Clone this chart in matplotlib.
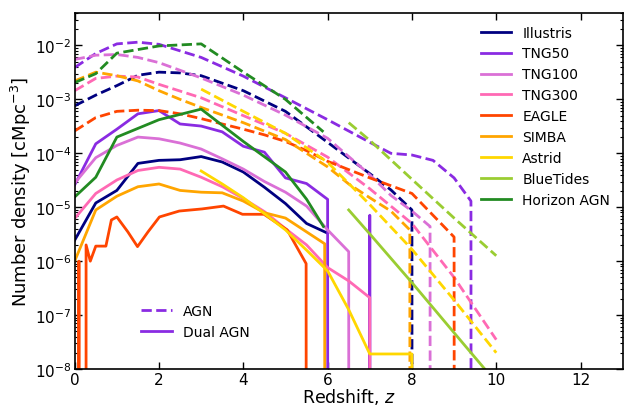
import numpy as np
import matplotlib
matplotlib.use('Agg')
import matplotlib.pyplot as plt
from matplotlib.lines import Line2D

# Number density of AGN (dashed) and dual AGN (solid) vs redshift, per simulation.
# A value of 0 means no objects: the log axis sends the curve straight down.

illustris_z_agn = [0, 0.5, 1, 1.5, 2, 2.5, 3, 4, 5, 6, 7, 7.5, 8, 8.5]
illustris_agn = [7.6e-4, 1.2e-3, 1.8e-3, 2.8e-3, 3.2e-3, 3.1e-3, 2.75e-3, 1.45e-3,
                 6.0e-4, 1.6e-4, 4.2e-5, 2.1e-5, 8.9e-6, 0]
illustris_z_dual = [0, 0.5, 1, 1.5, 2, 2.5, 3, 3.5, 4, 4.5, 5, 5.5, 6]
illustris_dual = [2.45e-6, 1.2e-5, 2.05e-5, 6.5e-5, 7.4e-5, 7.6e-5, 8.7e-5, 6.9e-5,
                  4.5e-5, 2.35e-5, 1.17e-5, 5.0e-6, 3.3e-6]

tng50_z_agn = [0, 0.5, 1, 1.5, 2, 3, 4, 5, 6, 7, 7.5, 8, 8.5, 9, 9.4, 9.9]
tng50_agn = [3.9e-3, 7.1e-3, 1.07e-2, 1.15e-2, 1.05e-2, 6.0e-3, 2.7e-3, 1.07e-3,
             4.2e-4, 1.6e-4, 1.0e-4, 9.3e-5, 7.4e-5, 3.5e-5, 1.3e-5, 0]
tng50_z_dual = [0, 0.5, 1, 1.5, 2, 2.5, 3, 3.5, 4, 4.5, 5, 5.5, 6, 6.5, 7, 7.5]
tng50_dual = [2.6e-5, 1.5e-4, 2.8e-4, 5.4e-4, 6.2e-4, 3.5e-4, 3.2e-4, 2.5e-4,
              1.35e-4, 1.05e-4, 3.5e-5, 2.75e-5, 1.4e-5, 0, 7.1e-6, 0]

tng100_z_agn = [0, 0.5, 1, 1.5, 2, 3, 4, 5, 6, 7, 7.5, 8, 8.43, 8.9]
tng100_agn = [5.5e-3, 6.6e-3, 6.8e-3, 6.0e-3, 4.8e-3, 2.5e-3, 1.2e-3, 5.1e-4,
              1.9e-4, 4.0e-5, 1.66e-5, 8.5e-6, 4.4e-6, 0]
tng100_z_dual = [0, 0.5, 1, 1.5, 2, 2.5, 3, 3.5, 4, 4.5, 5, 5.5, 6, 6.5, 7]
tng100_dual = [2.8e-5, 8.3e-5, 1.4e-4, 2.0e-4, 1.86e-4, 1.55e-4, 1.2e-4, 7.9e-5,
               5.1e-5, 3.0e-5, 1.9e-5, 1.05e-5, 3.8e-6, 1.5e-6, 0]

tng300_z_agn = [0, 0.5, 1, 1.5, 2, 3, 4, 5, 6, 7, 8, 9, 10]
tng300_agn = [1.45e-3, 2.45e-3, 2.7e-3, 2.6e-3, 1.9e-3, 1.07e-3, 5.0e-4, 2.35e-4,
              8.5e-5, 2.2e-5, 5.0e-6, 5.0e-7, 3.5e-8]
tng300_z_dual = [0, 0.5, 1, 1.5, 2, 2.5, 3, 3.5, 4, 4.5, 5, 5.5, 6, 6.5, 7, 7.5]
tng300_dual = [6.2e-6, 1.8e-5, 3.2e-5, 4.8e-5, 5.5e-5, 5.1e-5, 3.6e-5, 2.4e-5,
               1.45e-5, 8.3e-6, 4.0e-6, 2.0e-6, 7.6e-7, 4.3e-7, 2.1e-7, 0]

eagle_z_agn = [0, 0.5, 1, 1.5, 2, 2.5, 3, 3.5, 4, 4.5, 5, 5.5, 6, 7, 8, 9, 10]
eagle_agn = [2.6e-4, 4.6e-4, 6.0e-4, 6.3e-4, 6.2e-4, 5.4e-4, 4.4e-4, 3.5e-4, 2.8e-4,
             2.2e-4, 1.66e-4, 1.12e-4, 7.1e-5, 3.5e-5, 1.8e-5, 2.8e-6, 0]
eagle_z_dual = [0, 0.1, 0.18, 0.27, 0.37, 0.5, 0.74, 0.87, 1.0, 1.26, 1.49, 1.74,
                2.01, 2.48, 3.02, 3.53, 3.98, 4.49, 5.04, 5.49, 5.97]
eagle_dual = [0, 1.0e-6, 0, 2.0e-6, 1.0e-6, 1.9e-6, 1.9e-6, 5.8e-6, 6.6e-6, 3.5e-6,
              1.86e-6, 3.5e-6, 6.6e-6, 8.5e-6, 9.3e-6, 1.05e-5, 7.4e-6, 7.4e-6,
              3.8e-6, 9.0e-7, 0]

simba_z_agn = [0, 0.5, 1, 1.5, 2, 2.5, 3, 4, 5, 6, 6.5, 7, 7.5, 7.95, 8.45]
simba_agn = [2.2e-3, 3.2e-3, 2.75e-3, 2.2e-3, 1.45e-3, 1.0e-3, 7.1e-4, 3.7e-4,
             1.8e-4, 5.6e-5, 2.7e-5, 1.5e-5, 8.5e-6, 3.8e-6, 0]
simba_z_dual = [0, 0.5, 1, 1.5, 2, 2.5, 3, 3.5, 4, 4.5, 5, 5.93, 6.4]
simba_dual = [1.0e-6, 8.9e-6, 1.6e-5, 2.4e-5, 2.7e-5, 2.05e-5, 1.9e-5, 1.85e-5,
              1.3e-5, 7.9e-6, 6.3e-6, 2.1e-6, 0]

astrid_z_agn = [3, 4, 5, 6, 7, 8, 9, 10]
astrid_agn = [1.55e-3, 6.0e-4, 2.35e-4, 6.8e-5, 1.12e-5, 1.66e-6, 1.9e-7, 2.0e-8]
astrid_z_dual = [3, 3.5, 4, 4.5, 5, 5.5, 6, 6.5, 7, 7.5, 8, 8.5]
astrid_dual = [4.7e-5, 2.7e-5, 1.5e-5, 7.6e-6, 3.8e-6, 1.6e-6, 6.6e-7, 1.26e-7,
               1.9e-8, 1.9e-8, 1.9e-8, 0]

bluetides_z = [6.5, 7, 8, 9, 10]
bluetides_agn = [3.7e-4, 1.74e-4, 3.3e-5, 6.3e-6, 1.26e-6]
bluetides_dual = [8.9e-6, 3.2e-6, 4.0e-7, 4.7e-8, 5.6e-9]

hagn_z_agn = [0, 0.5, 1, 2, 3, 4, 5, 5.9]
hagn_agn = [2.05e-3, 3.0e-3, 7.2e-3, 9.8e-3, 1.07e-2, 3.2e-3, 1.0e-3, 2.5e-4]
hagn_z_dual = [0, 0.5, 1, 2, 3, 4, 5, 5.5, 5.9]
hagn_dual = [1.55e-5, 3.6e-5, 2.0e-4, 4.2e-4, 6.6e-4, 1.66e-4, 4.5e-5, 1.41e-5, 4.4e-6]

sim_names = ['Illustris', 'TNG50', 'TNG100', 'TNG300', 'EAGLE', 'SIMBA',
             'Astrid', 'BlueTides', 'Horizon AGN']
sim_colors = ['navy', 'blueviolet', 'orchid', 'hotpink', 'orangered', 'orange',
              'gold', 'yellowgreen', 'forestgreen']

curves = [
    (illustris_z_agn, illustris_agn, illustris_z_dual, illustris_dual),
    (tng50_z_agn, tng50_agn, tng50_z_dual, tng50_dual),
    (tng100_z_agn, tng100_agn, tng100_z_dual, tng100_dual),
    (tng300_z_agn, tng300_agn, tng300_z_dual, tng300_dual),
    (eagle_z_agn, eagle_agn, eagle_z_dual, eagle_dual),
    (simba_z_agn, simba_agn, simba_z_dual, simba_dual),
    (astrid_z_agn, astrid_agn, astrid_z_dual, astrid_dual),
    (bluetides_z, bluetides_agn, bluetides_z, bluetides_dual),
    (hagn_z_agn, hagn_agn, hagn_z_dual, hagn_dual),
]

fig = plt.figure(figsize=(6.24, 4.06), dpi=100)
ax = fig.add_axes([74.7 / 624, 1 - 370 / 406, 548 / 624, 356 / 406])

lw = 2.0
for (za, na, zd, nd), col in zip(curves, sim_colors):
    ax.plot(za, na, ls='--', color=col, lw=lw)
    ax.plot(zd, nd, ls='-', color=col, lw=lw)

ax.set_yscale('log', nonpositive='clip')
ax.set_xlim(0, 13)
ax.set_ylim(1e-8, 4e-2)
ax.set_xticks([0, 2, 4, 6, 8, 10, 12])
ax.tick_params(which='both', direction='in', top=True, right=True, labelsize=11, pad=2.5)
ax.tick_params(which='major', length=5, width=1)
ax.tick_params(which='minor', length=2.5, width=0.8)
for sp in ax.spines.values():
    sp.set_linewidth(1.2)

ax.set_xlabel('Redshift, $z$', fontsize=12.5, labelpad=-1)
ax.set_ylabel('Number density [cMpc$^{-3}$]', fontsize=13, labelpad=1)

sim_handles = [Line2D([], [], color=c, lw=lw) for c in sim_colors]
leg1 = ax.legend(sim_handles, sim_names, loc='upper right', frameon=False,
                 fontsize=10, handlelength=2.2, labelspacing=0.5,
                 bbox_to_anchor=(1.0, 1.0))
ax.add_artist(leg1)

type_handles = [Line2D([], [], color='blueviolet', lw=lw, ls='--'),
                Line2D([], [], color='blueviolet', lw=lw, ls='-')]
ax.legend(type_handles, ['AGN', 'Dual AGN'], loc='lower left', frameon=False,
          fontsize=10, handlelength=2.2, labelspacing=0.5,
          bbox_to_anchor=(0.099, 0.05))

fig.savefig('out.png', dpi=100)
